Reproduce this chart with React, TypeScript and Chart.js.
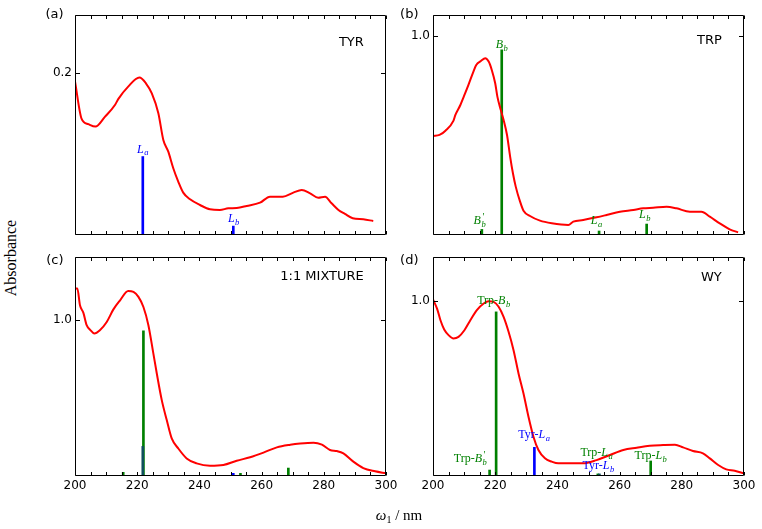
import { useEffect, useRef } from 'react';
import { Chart, registerables } from 'chart.js';

Chart.register(...registerables);

const GREEN = '#008000';
const BLUE = '#0000ff';
const DARK = '#0e4f5c';
const RED = '#ff0000';

// ---------- Panel (a) TYR ----------
const tyrX = [200, 202.1, 204.3, 206.6, 209.6, 212.9, 213.9, 217.1, 220.7, 222.8, 224.7, 226.8, 228.4, 230, 231.6, 233.2, 234.8, 237, 240.2, 243.4, 246.6, 249.3, 252, 255.2, 259.5, 262.7, 266.8, 270.2, 272.9, 275.6, 278.2, 280.4, 282.5, 284.7, 286.8, 289.3, 292.7, 295.9];
const tyrY = [0.19, 0.144, 0.137, 0.134, 0.146, 0.161, 0.168, 0.1835, 0.1946, 0.1876, 0.175, 0.1505, 0.1175, 0.103, 0.0825, 0.066, 0.0524, 0.0441, 0.0371, 0.0318, 0.031, 0.033, 0.0334, 0.0359, 0.04, 0.0474, 0.0474, 0.0524, 0.0557, 0.0515, 0.0462, 0.0474, 0.0392, 0.031, 0.026, 0.0206, 0.0194, 0.0173];
const tyrStickX = [221.8, 250.9];
const tyrStickY = [0.097, 0.011];
const tyrStickColor = [BLUE, BLUE];

// ---------- Panel (b) TRP ----------
const trpX = [200, 202.1, 204, 206.6, 207.2, 208.8, 209.9, 211.4, 213, 213.9, 215.4, 216.8, 217.9, 218.9, 220, 220.7, 221.8, 222.7, 223.8, 224.8, 225.7, 226.6, 228, 229.1, 231.2, 234.4, 238.2, 243.5, 245.1, 248.3, 252.6, 255.8, 260.1, 264.4, 267.6, 270.8, 275.1, 278.3, 282.6, 286.3, 289, 292.2, 295.4, 298.1];
const trpY = [0.4975, 0.5025, 0.524, 0.5745, 0.603, 0.653, 0.695, 0.754, 0.821, 0.854, 0.874, 0.888, 0.871, 0.829, 0.762, 0.695, 0.628, 0.578, 0.5025, 0.394, 0.31, 0.243, 0.1675, 0.122, 0.0955, 0.072, 0.0586, 0.05, 0.067, 0.0754, 0.0888, 0.1005, 0.117, 0.1256, 0.134, 0.137, 0.142, 0.134, 0.117, 0.117, 0.092, 0.0586, 0.0285, 0.0134];
const trpStickX = [215.7, 222.1, 253.4, 268.7];
const trpStickY = [0.028, 0.93, 0.02, 0.055];
const trpStickColor = [GREEN, GREEN, GREEN, GREEN];

// ---------- Panel (c) 1:1 MIXTURE ----------
const mixX = [200, 200.75, 201.6, 202.7, 203.75, 204.8, 206.2, 208, 210.2, 212.3, 214.5, 217.1, 218.8, 220.4, 222, 223.6, 225.2, 226.3, 227.9, 229.5, 231.1, 233.2, 235.9, 239.1, 243.4, 247.7, 252, 256.3, 260.6, 264.9, 269.2, 272.4, 276.7, 279.4, 282, 284.2, 286.3, 289.5, 292.7, 296.5, 300];
const mixY = [1.203, 1.203, 1.096, 1.047, 0.968, 0.94, 0.915, 0.936, 0.989, 1.068, 1.128, 1.188, 1.182, 1.15, 1.085, 0.968, 0.786, 0.658, 0.487, 0.359, 0.241, 0.177, 0.113, 0.081, 0.066, 0.0705, 0.098, 0.12, 0.15, 0.184, 0.201, 0.209, 0.214, 0.201, 0.167, 0.16, 0.145, 0.092, 0.051, 0.03, 0.017];
const mixStickX = [215.5, 222, 253.2, 268.6, 221.8, 250.9];
const mixStickY = [0.0235, 0.932, 0.017, 0.051, 0.19, 0.017];
const mixStickColor = [GREEN, GREEN, GREEN, GREEN, DARK, BLUE];

// ---------- Panel (d) WY ----------
const wyX = [200, 201.3, 202.4, 203.6, 205, 206.6, 208.2, 210.1, 212, 214.1, 216.3, 217.9, 219.5, 221.1, 222.7, 224.3, 225.9, 227.5, 229.1, 230.7, 232.3, 233.9, 236, 238.2, 240.3, 244.1, 248.3, 252.6, 256.9, 261.2, 265.5, 269.7, 274, 277.8, 280.4, 283.6, 286.8, 289, 291.7, 294.3, 297, 300];
const wyY = [1.01, 0.958, 0.891, 0.838, 0.806, 0.787, 0.796, 0.834, 0.891, 0.949, 0.987, 1.0, 0.996, 0.968, 0.91, 0.825, 0.72, 0.587, 0.472, 0.339, 0.225, 0.149, 0.101, 0.082, 0.0724, 0.0724, 0.0724, 0.091, 0.12, 0.149, 0.162, 0.173, 0.177, 0.179, 0.164, 0.143, 0.13, 0.101, 0.063, 0.038, 0.03, 0.015];
const wyStickX = [218.2, 220.3, 253, 270, 232.6, 253.5];
const wyStickY = [0.034, 0.939, 0.012, 0.086, 0.164, 0.012];
const wyStickColor = [GREEN, GREEN, GREEN, GREEN, BLUE, DARK];

// label tuples: [prefix, italic letter, subscript, prime, anchorX (nm), anchorY (value), colour]
type Lab = [string, string, string, boolean, number, number, string];
const tyrLabels: Lab[] = [
  ['', 'L', 'a', false, 221.8, 0.107, BLUE],
  ['', 'L', 'b', false, 251.0, 0.021, BLUE],
];
const trpLabels: Lab[] = [
  ['', 'B', 'b', true, 215.0, 0.075, GREEN],
  ['', 'B', 'b', false, 222.1, 0.96, GREEN],
  ['', 'L', 'a', false, 252.6, 0.075, GREEN],
  ['', 'L', 'b', false, 268.1, 0.105, GREEN],
];
const mixLabels: Lab[] = [];
const wyLabels: Lab[] = [
  ['Trp-', 'B', 'b', false, 219.5, 1.006, GREEN],
  ['Trp-', 'B', 'b', true, 212.0, 0.103, GREEN],
  ['Tyr-', 'L', 'a', false, 232.5, 0.24, BLUE],
  ['Trp-', 'L', 'a', false, 252.6, 0.137, GREEN],
  ['Tyr-', 'L', 'b', false, 253.2, 0.063, BLUE],
  ['Trp-', 'L', 'b', false, 270.0, 0.12, GREEN],
];

const xTickLabels = [200, 220, 240, 260, 280, 300];

interface Spec {
  letter: string;
  name: string;
  curveX: number[];
  curveY: number[];
  stickX: number[];
  stickY: number[];
  stickColor: string[];
  labels: Lab[];
  yMax: number;
  yTicks: number[];
  showX: boolean;
  left: number;
  top: number;
  plotH: number;
  nameDy: number;
  letterDx: number;
  letterDy: number;
}

const PLOT_W = 311;
const AX_W = 50;
const AX_H = 30;
const PAD_T = 15;
const PAD_R = 22;

const panels: Spec[] = [
  { letter: '(a)', name: 'TYR', curveX: tyrX, curveY: tyrY, stickX: tyrStickX, stickY: tyrStickY, stickColor: tyrStickColor, labels: tyrLabels, yMax: 0.272, yTicks: [0.2], showX: false, left: 25, top: 0, plotH: 220, nameDy: 27, letterDx: 12, letterDy: -1 },
  { letter: '(b)', name: 'TRP', curveX: trpX, curveY: trpY, stickX: trpStickX, stickY: trpStickY, stickColor: trpStickColor, labels: trpLabels, yMax: 1.105, yTicks: [1.0], showX: false, left: 383, top: 0, plotH: 220, nameDy: 25, letterDx: 15, letterDy: -1 },
  { letter: '(c)', name: '1:1 MIXTURE', curveX: mixX, curveY: mixY, stickX: mixStickX, stickY: mixStickY, stickColor: mixStickColor, labels: mixLabels, yMax: 1.406, yTicks: [1.0], showX: true, left: 25, top: 242, plotH: 219, nameDy: 19, letterDx: 12, letterDy: 3 },
  { letter: '(d)', name: 'WY', curveX: wyX, curveY: wyY, stickX: wyStickX, stickY: wyStickY, stickColor: wyStickColor, labels: wyLabels, yMax: 1.253, yTicks: [1.0], showX: true, left: 383, top: 242, plotH: 219, nameDy: 20, letterDx: 15, letterDy: 3 },
];

const SANS = '"DejaVu Sans", sans-serif';
const SERIF = '"Liberation Serif", serif';

function drawLabel(ctx: CanvasRenderingContext2D, lab: Lab, cx: number, cy: number) {
  const [pre, main, sub, prime, , , color] = lab;
  const F = 12;
  const S = 8.5;
  const reg = `${F}px ${SERIF}`;
  const ita = `italic ${F}px ${SERIF}`;
  const subF = `italic ${S}px ${SERIF}`;
  const supF = `${S + 1}px ${SERIF}`;
  ctx.font = reg;
  const wPre = pre ? ctx.measureText(pre).width : 0;
  ctx.font = ita;
  const wMain = ctx.measureText(main).width;
  ctx.font = subF;
  const wSub = ctx.measureText(sub).width;
  const wTot = wPre + wMain + wSub + 0.5;
  let x = cx - wTot / 2;
  const base = cy + F * 0.35;
  ctx.fillStyle = color;
  ctx.textAlign = 'left';
  ctx.textBaseline = 'alphabetic';
  if (pre) {
    ctx.font = reg;
    ctx.fillText(pre, x, base);
    x += wPre;
  }
  ctx.font = ita;
  ctx.fillText(main, x, base);
  x += wMain + 0.5;
  ctx.font = subF;
  ctx.fillText(sub, x, base + 2.5);
  if (prime) {
    ctx.font = supF;
    ctx.fillText('\u2032', x + 1, base - 4.5);
  }
}

function makeDecor(spec: Spec) {
  return {
    id: 'decor',
    afterDraw(chart: any) {
      const ctx: CanvasRenderingContext2D = chart.ctx;
      const xs = chart.scales.x;
      const ys = chart.scales.y;
      const L = Math.round(xs.getPixelForValue(xs.min)) + 0.5;
      const R = Math.round(xs.getPixelForValue(xs.max)) - 0.5;
      const B = Math.round(ys.getPixelForValue(ys.min)) - 0.5;
      const T = Math.round(ys.getPixelForValue(ys.max)) + 0.5;
      ctx.save();
      ctx.strokeStyle = '#000';
      ctx.lineWidth = 1;
      ctx.beginPath();
      // frame, four sides
      ctx.moveTo(L, T);
      ctx.lineTo(R, T);
      ctx.lineTo(R, B);
      ctx.lineTo(L, B);
      ctx.closePath();
      // inward minor ticks on x every 5 nm
      for (let v = xs.min; v <= xs.max + 1e-6; v += 5) {
        const px = Math.round(xs.getPixelForValue(v)) + 0.5;
        ctx.moveTo(px, B);
        ctx.lineTo(px, B - 3.5);
        ctx.moveTo(px, T);
        ctx.lineTo(px, T + 3.5);
      }
      for (const t of spec.yTicks) {
        const py = Math.round(ys.getPixelForValue(t)) + 0.5;
        ctx.moveTo(L, py);
        ctx.lineTo(L + 4.5, py);
        ctx.moveTo(R, py);
        ctx.lineTo(R - 4.5, py);
      }
      ctx.stroke();
      // stick labels
      for (const lab of spec.labels) {
        drawLabel(ctx, lab, xs.getPixelForValue(lab[4]), ys.getPixelForValue(lab[5]));
      }
      // panel name
      ctx.fillStyle = '#000';
      ctx.font = `13px ${SANS}`;
      ctx.textAlign = 'right';
      ctx.textBaseline = 'middle';
      ctx.fillText(spec.name, L + 0.93 * (R - L), T + spec.nameDy);
      // panel letter
      ctx.fillText(spec.letter, L - spec.letterDx, T + spec.letterDy);
      ctx.restore();
    },
  };
}

function Panel({ spec }: { spec: Spec }) {
  const ref = useRef<HTMLCanvasElement>(null);
  const W = PLOT_W + AX_W + PAD_R;
  const H = spec.plotH + PAD_T + AX_H;
  useEffect(() => {
    const tickFont = { family: SANS, size: 12 };
    const chart = new Chart(ref.current as HTMLCanvasElement, {
      type: 'line',
      data: {
        datasets: [
          {
            type: 'line',
            data: spec.curveX.map((x, i) => ({ x, y: spec.curveY[i] })),
            borderColor: RED,
            borderWidth: 2,
            pointRadius: 0,
            fill: false,
            cubicInterpolationMode: 'monotone',
            order: 0,
          } as any,
          {
            type: 'bar',
            data: spec.stickX.map((x, i) => ({ x, y: spec.stickY[i] })),
            backgroundColor: spec.stickColor,
            borderWidth: 0,
            barThickness: 2,
            grouped: false,
            order: 1,
          } as any,
        ],
      },
      options: {
        animation: false,
        responsive: false,
        devicePixelRatio: 1,
        events: [],
        layout: { padding: { top: PAD_T, right: PAD_R, left: 0, bottom: 0 } },
        plugins: { legend: { display: false }, tooltip: { enabled: false } },
        scales: {
          x: {
            type: 'linear',
            min: 200,
            max: 300,
            offset: false,
            grid: { display: false, drawTicks: false },
            border: { display: false },
            ticks: {
              display: spec.showX,
              padding: 3,
              autoSkip: false,
              maxRotation: 0,
              color: '#000',
              font: tickFont,
            },
            afterBuildTicks: (s: any) => {
              s.ticks = xTickLabels.map((v) => ({ value: v }));
            },
            afterFit: (s: any) => {
              s.height = AX_H;
            },
          },
          y: {
            type: 'linear',
            min: 0,
            max: spec.yMax,
            grid: { display: false, drawTicks: false },
            border: { display: false },
            ticks: {
              padding: 3,
              color: '#000',
              font: tickFont,
              callback: (v: any) => Number(v).toFixed(1),
            },
            afterBuildTicks: (s: any) => {
              s.ticks = spec.yTicks.map((v) => ({ value: v }));
            },
            afterFit: (s: any) => {
              s.width = AX_W;
            },
          },
        } as any,
      },
      plugins: [makeDecor(spec)],
    });
    return () => chart.destroy();
  }, [spec]);
  return (
    <canvas
      ref={ref}
      width={W}
      height={H}
      style={{ position: 'absolute', left: spec.left, top: spec.top, width: W, height: H }}
    />
  );
}

export default function App() {
  return (
    <div style={{ position: 'fixed', left: 0, top: 0, width: 762, height: 529, background: '#fff', overflow: 'hidden' }}>
      {panels.map((p) => (
        <Panel key={p.letter} spec={p} />
      ))}
      <div
        style={{
          position: 'absolute',
          left: 11,
          top: 258,
          transform: 'translate(-50%, -50%) rotate(-90deg)',
          whiteSpace: 'nowrap',
          fontFamily: SERIF,
          fontSize: 16,
          color: '#000',
          lineHeight: 1,
        }}
      >
        Absorbance
      </div>
      <div
        style={{
          position: 'absolute',
          left: 399,
          top: 515,
          transform: 'translate(-50%, -50%)',
          whiteSpace: 'nowrap',
          fontFamily: SERIF,
          fontSize: 15,
          color: '#000',
          lineHeight: 1,
        }}
      >
        <i>ω</i>
        <sub style={{ fontSize: 10, verticalAlign: 'baseline', position: 'relative', top: 3 }}>1</sub> / nm
      </div>
    </div>
  );
}
